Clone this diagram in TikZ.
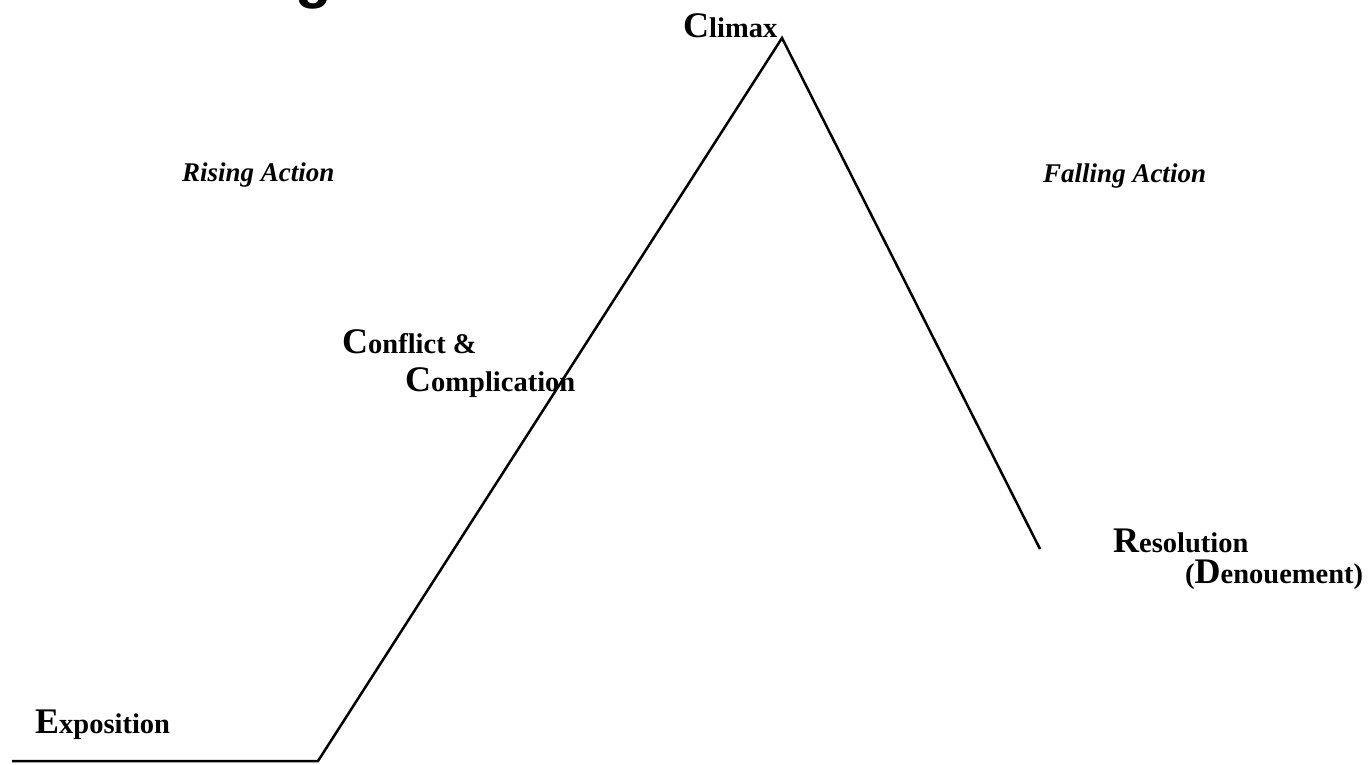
\documentclass[tikz,border=0pt]{standalone}
\usepackage{fontspec}
\setmainfont{Liberation Serif}
\newfontfamily\titlefont{Liberation Sans}
\newcommand{\capsz}[2]{{\fontsize{#1}{#1}\selectfont #2}}
\tikzset{
  lbl/.style={anchor=base west, inner sep=0pt, font=\bfseries\fontsize{28.5}{32}\selectfont},
  phase/.style={anchor=base west, inner sep=0pt, font=\bfseries\itshape\fontsize{27}{30}\selectfont},
  plotline/.style={line width=2.5pt, line join=miter, line cap=butt},
}
\begin{document}
\begin{tikzpicture}[x=1pt,y=-1pt]
\useasboundingbox (0,0) rectangle (1371,764);
\fill[white] (0,0) rectangle (1371,764);
\begin{scope}
\clip (0,0) rectangle (1371,764);
\node[anchor=base west, inner sep=0pt, font=\titlefont\bfseries\fontsize{60}{60}\selectfont] (title) at (72,-4) {Plot Diagram};
\end{scope}
% plot line
\coordinate (start) at (12,761);
\coordinate (foot) at (318,761);
\coordinate (peak) at (782,38);
\coordinate (finish) at (1040,549);
\draw[plotline] (start) -- (foot) -- (peak) -- (finish);
% labels
\node[lbl] (climax) at (683,37) {\capsz{36}{C}limax};
\node[phase] (rising) at (182,181) {Rising Action};
\node[phase] (falling) at (1043,182) {Falling Action};
\node[lbl] (conflict) at (342,353) {\capsz{36}{C}onflict \&};
\node[lbl] (complication) at (405,391) {\capsz{36}{C}omplication};
\node[lbl] (resolution) at (1113,552) {\capsz{36}{R}esolution};
\node[lbl] (denouement) at (1185,583) {(\capsz{36}{D}enouement)};
\node[lbl] (exposition) at (35,733) {\capsz{36}{E}xposition};
\end{tikzpicture}
\end{document}
